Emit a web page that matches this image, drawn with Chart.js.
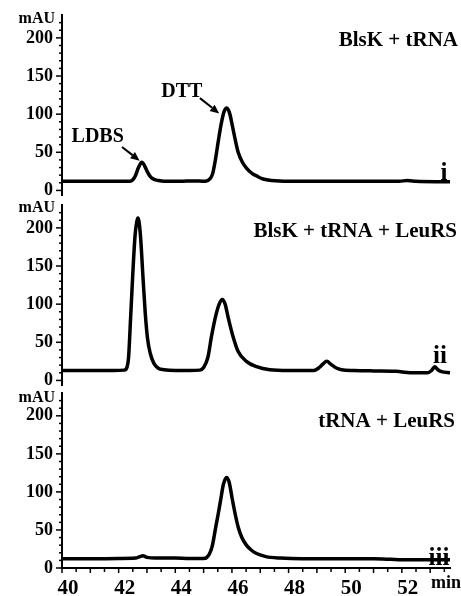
<!DOCTYPE html>
<html>
<head>
<meta charset="utf-8">
<script src="https://cdn.jsdelivr.net/npm/chart.js@4/dist/chart.umd.min.js"></script>
<style>
  html, body { margin: 0; padding: 0; background: #fff; }
  #wrap { position: relative; width: 461px; height: 596px; overflow: hidden; }
  canvas { position: absolute; left: 0; }
</style>
</head>
<body>
<div id="wrap">
  <canvas id="c1" width="461" height="220" style="top:-5px;width:461px;height:220px"></canvas>
  <canvas id="c2" width="461" height="220" style="top:185px;width:461px;height:220px"></canvas>
  <canvas id="c3" width="461" height="223" style="top:373px;width:461px;height:223px"></canvas>
</div>
<script>
// Retention time (min) and absorbance (mAU) for each chromatogram trace.

// (i) BlsK + tRNA
const timeI = [40, 40.8, 41.6, 42.2, 42.4, 42.5, 42.6, 42.7, 42.82, 42.92, 43.02, 43.12, 43.25, 43.4, 43.6,
  44.2, 44.6, 45.07, 45.22, 45.32, 45.42, 45.52, 45.62, 45.72, 45.82, 45.92, 46.02, 46.12, 46.22, 46.37,
  46.52, 46.72, 46.87, 47.1, 47.4, 48, 49, 50, 51, 51.9, 52.2, 52.5, 53.2, 53.7];
const absI = [12, 12, 12, 12, 12, 14, 20, 30, 37, 32, 24, 18, 14.5, 13, 12,
  12, 12.5, 12, 15, 22, 41, 65, 87, 103, 108, 101, 84, 66, 50, 37,
  29, 22, 19, 15, 13, 12, 12, 12, 12, 12, 13, 12, 11.5, 11.5];

// (ii) BlsK + tRNA + LeuRS
const timeII = [40, 41, 41.8, 42.2, 42.3, 42.35, 42.42, 42.5, 42.58, 42.64, 42.68, 42.72, 42.78, 42.86, 42.94,
  43.02, 43.12, 43.25, 43.4, 43.6, 44, 44.5, 44.87, 45.0, 45.15, 45.28, 45.43, 45.55, 45.66, 45.76,
  45.87, 46.02, 46.22, 46.51, 46.87, 47.34, 48, 48.9, 49.05, 49.2, 49.35, 49.5, 49.65, 49.87, 50.3,
  51, 51.8, 52.3, 52.9, 53.05, 53.16, 53.27, 53.4, 53.7];
const absII = [13, 13, 13, 13.5, 18, 30, 80, 140, 190, 208, 213, 208, 185, 135, 88,
  55, 35, 22, 16, 14, 13, 13, 13.5, 17, 30, 58, 85, 100, 106, 100,
  82, 60, 38, 25, 18, 14, 13, 13, 16, 21, 25, 21, 17, 14, 13,
  12.5, 12, 10, 10, 13, 18, 14, 11.5, 10];

// (iii) tRNA + LeuRS
const timeIII = [40, 41, 42, 42.6, 42.75, 42.86, 43.0, 43.3, 44, 44.5, 45.0, 45.1, 45.2, 45.3, 45.43,
  45.52, 45.6, 45.7, 45.81, 45.9, 46.02, 46.12, 46.22, 46.35, 46.51, 46.7, 46.87, 47.2, 47.7, 48.5,
  50, 51, 51.6, 52, 53, 53.7];
const absIII = [12, 12, 12.5, 13, 15, 16, 14, 13, 13, 12.5, 12.5, 13.5, 18, 28, 54,
  72, 89, 110, 119, 113, 89, 70, 54, 40, 30, 23, 19, 15, 13, 12,
  12, 12, 11.5, 11, 11, 11];

// Axis ticks
const yLabelTicks = [0, 50, 100, 150, 200];
const yMinorStep = 10;
const xLabelTicks = [40, 42, 44, 46, 48, 50, 52];
const xMinorStep = 0.5;

const SERIF = '"Liberation Serif", "Times New Roman", serif';
const toPoints = (xs, ys) => xs.map((x, i) => ({ x, y: ys[i] }));

function drawArrow(ctx, x1, y1, x2, y2) {
  const ang = Math.atan2(y2 - y1, x2 - x1);
  const head = 9, half = 4;
  ctx.save();
  ctx.strokeStyle = '#000'; ctx.fillStyle = '#000'; ctx.lineWidth = 2;
  ctx.beginPath();
  ctx.moveTo(x1, y1);
  ctx.lineTo(x2 - head * Math.cos(ang), y2 - head * Math.sin(ang));
  ctx.stroke();
  ctx.beginPath();
  ctx.moveTo(x2, y2);
  ctx.lineTo(x2 - head * Math.cos(ang) + half * Math.sin(ang), y2 - head * Math.sin(ang) - half * Math.cos(ang));
  ctx.lineTo(x2 - head * Math.cos(ang) - half * Math.sin(ang), y2 - head * Math.sin(ang) + half * Math.cos(ang));
  ctx.closePath();
  ctx.fill();
  ctx.restore();
}

// Draws the axis tick marks, the unit label, the panel caption and the roman numeral.
function decorPlugin(cfg) {
  return {
    id: 'decor',
    afterDraw(chart) {
      const ctx = chart.ctx;
      const ys = chart.scales.y, xs = chart.scales.x;
      const left = chart.chartArea.left;
      ctx.save();
      ctx.strokeStyle = '#000';
      ctx.lineWidth = 1.5;
      // y ticks, on the outside of the axis
      for (let v = 0; v <= 220; v += yMinorStep) {
        const py = ys.getPixelForValue(v);
        const len = v % 50 === 0 ? 6 : 3;
        ctx.beginPath(); ctx.moveTo(left - len, py); ctx.lineTo(left, py); ctx.stroke();
      }
      // x ticks (bottom panel only)
      if (cfg.xAxis) {
        const bottom = chart.chartArea.bottom;
        for (let v = 40; v <= 53.5; v += xMinorStep) {
          const px = xs.getPixelForValue(v);
          const len = Number.isInteger(v) ? 5 : 4;
          ctx.beginPath(); ctx.moveTo(px, bottom); ctx.lineTo(px, bottom + len); ctx.stroke();
        }
        ctx.font = 'bold 18px ' + SERIF;
        ctx.fillStyle = '#000';
        ctx.textAlign = 'center'; ctx.textBaseline = 'middle';
        ctx.fillText('min', 446, cfg.minY);
      }
      ctx.fillStyle = '#000';
      ctx.font = 'bold 16px ' + SERIF;
      ctx.textAlign = 'right'; ctx.textBaseline = 'middle';
      ctx.fillText('mAU', 55, cfg.unitY);

      ctx.font = 'bold 21px ' + SERIF;
      ctx.textAlign = 'right'; ctx.textBaseline = 'middle';
      ctx.fillText(cfg.title, cfg.titleX, cfg.titleY);

      ctx.font = 'bold 25px ' + SERIF;
      ctx.textAlign = 'center'; ctx.textBaseline = 'alphabetic';
      ctx.fillText(cfg.roman, cfg.romanX, cfg.romanY);

      (cfg.notes || []).forEach(n => {
        ctx.font = 'bold 20px ' + SERIF;
        ctx.textAlign = 'center'; ctx.textBaseline = 'middle';
        ctx.fillText(n.text, xs.getPixelForValue(n.tx), ys.getPixelForValue(n.ty));
        drawArrow(ctx,
          xs.getPixelForValue(n.ax1), ys.getPixelForValue(n.ay1),
          xs.getPixelForValue(n.ax2), ys.getPixelForValue(n.ay2));
      });
      ctx.restore();
    }
  };
}

function makePanel(id, times, values, cfg) {
  const yMin = cfg.xAxis ? 0 : -6;
  return new Chart(document.getElementById(id), {
    type: 'line',
    data: {
      datasets: [{
        data: toPoints(times, values),
        borderColor: '#000',
        borderWidth: 3.5,
        pointRadius: 0,
        cubicInterpolationMode: 'monotone',
        fill: false
      }]
    },
    options: {
      responsive: false,
      animation: false,
      devicePixelRatio: 1,
      layout: {
        padding: { top: 20, right: 11, left: 0, bottom: cfg.xAxis ? 0 : 20 }
      },
      plugins: { legend: { display: false }, tooltip: { enabled: false } },
      scales: {
        x: {
          type: 'linear',
          min: 40, max: 53.7,
          display: true,
          grid: { display: false, drawTicks: false },
          border: { display: cfg.xAxis, color: '#000', width: 2 },
          afterBuildTicks: s => { s.ticks = xLabelTicks.map(v => ({ value: v })); },
          afterFit: s => { s.height = cfg.xAxis ? 28 : 0; },
          ticks: {
            display: cfg.xAxis,
            color: '#000', padding: 8, labelOffset: 6, maxRotation: 0, autoSkip: false,
            font: { family: SERIF, size: 21, weight: 'bold' }
          }
        },
        y: {
          type: 'linear',
          min: yMin, max: 230,
          grid: { display: false, drawTicks: false },
          border: { display: true, color: '#000', width: 2 },
          afterBuildTicks: s => { s.ticks = yLabelTicks.map(v => ({ value: v })); },
          afterFit: s => { s.width = 62; },
          ticks: {
            color: '#000', padding: 9,
            font: { family: SERIF, size: 18, weight: 'bold' }
          }
        }
      }
    },
    plugins: [decorPlugin(cfg)]
  });
}

makePanel('c1', timeI, absI, {
  xAxis: false, unitY: 24, title: 'BlsK + tRNA', titleX: 458, titleY: 46,
  roman: 'i', romanX: 444, romanY: 185,
  notes: [
    { text: 'LDBS', tx: 41.26, ty: 70, ax1: 42.12, ay1: 57, ax2: 42.74, ay2: 39 },
    { text: 'DTT', tx: 44.23, ty: 129, ax1: 44.87, ay1: 121, ax2: 45.55, ay2: 101 }
  ]
});
makePanel('c2', timeII, absII, {
  xAxis: false, unitY: 23, title: 'BlsK + tRNA + LeuRS', titleX: 457, titleY: 47,
  roman: 'ii', romanX: 440, romanY: 178
});
makePanel('c3', timeIII, absIII, {
  xAxis: true, unitY: 25, title: 'tRNA + LeuRS', titleX: 455, titleY: 49,
  roman: 'iii', romanX: 439, romanY: 192, minY: 210
});
</script>
</body>
</html>
